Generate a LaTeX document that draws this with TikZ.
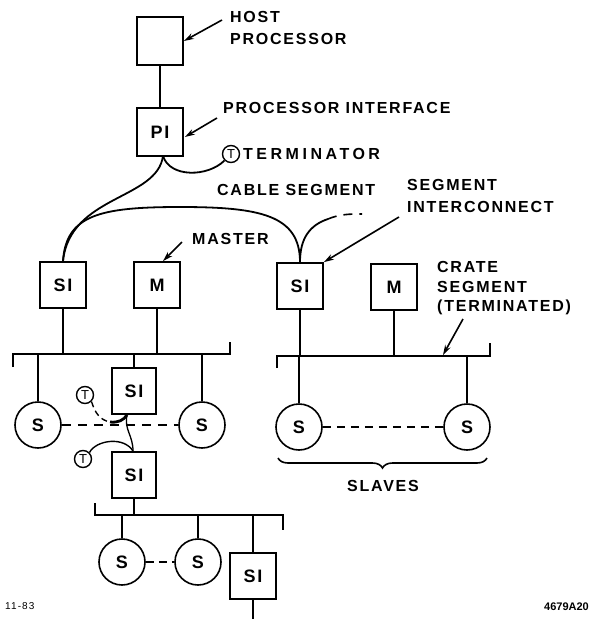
\documentclass[tikz,border=0pt]{standalone}
\usepackage{fontspec}
\setmainfont{Liberation Sans}
\newfontfamily\lblfont[LetterSpace=11]{Liberation Sans}
\usetikzlibrary{arrows.meta,decorations.pathreplacing,calc}
\begin{document}
\begin{tikzpicture}[x=1pt,y=-1pt,
  wire/.style={line width=1.8pt},
  box/.style={draw,line width=1.8pt,minimum width=46pt,minimum height=46pt,inner sep=0pt,font=\lblfont\bfseries\fontsize{18}{18}\selectfont},
  slave/.style={draw,circle,line width=1.6pt,minimum size=46pt,inner sep=0pt,font=\lblfont\bfseries\fontsize{18}{18}\selectfont},
  term/.style={draw,circle,line width=1.4pt,minimum size=17pt,inner sep=0pt,font=\fontsize{13}{13}\selectfont},
  lbl/.style={anchor=west,inner sep=0pt,font=\lblfont\bfseries\fontsize{16}{16}\selectfont},
  arr/.style={line width=1.6pt,-{Stealth[length=10pt,width=6pt]}},
  dsh/.style={line width=1.6pt,dash pattern=on 9pt off 7pt}]
\useasboundingbox (0,0) rectangle (591,619);

% top
\node[box,minimum height=48pt] (host) at (160,41) {};
\node[box,minimum height=48pt] (pi) at (160,132) {PI};
\draw[wire] (host) -- (pi);
\node[lbl] (hostl1) at (230,17) {HOST};
\node[lbl] (hostl2) at (230,39) {PROCESSOR};
\coordinate (ha) at (222,20);
\draw[arr] (ha) -- (host.east);
\node[lbl] (pil) at (223,108) {PROCESSOR INTERFACE};
\coordinate (pia) at (217,118);
\draw[arr] (pia) -- ($(pi.east)+(1,5)$);
\node[term] (tP) at (231,154) {T};
\node[lbl,font=\lblfont\bfseries\fontsize{16}{16}\selectfont\addfontfeature{LetterSpace=22}] (tPl) at (243,154) {TERMINATOR};
\coordinate (pib) at (163,156);
\draw[wire] (pib) .. controls (170,178) and (208,177) .. (tP.south west);

% SI / M row
\node[box] (siA) at (63,285) {SI};
\node[box] (mA) at (157,285) {M};
\node[box] (siB) at (300,286) {SI};
\node[box] (mB) at (394,287) {M};
\draw[wire] (pib) .. controls (157,200) and (70,195) .. (siA.north);
\draw[wire] (siA.north) .. controls (66,215) and (100,207) .. (180,207) .. controls (260,207) and (300,215) .. (siB.north);
\coordinate (dA) at (328,219);
\coordinate (dB) at (362,214);
\draw[wire] (siB.north) .. controls (300,238) and (310,225) .. (dA);
\draw[dsh] (dA) .. controls (340,214) and (350,214) .. (dB);
\node[lbl] (cabl) at (217,190) {CABLE SEGMENT};
\node[lbl] (sil1) at (407,185) {SEGMENT};
\node[lbl] (sil2) at (407,207) {INTERCONNECT};
\coordinate (sia) at (399,217);
\draw[arr] (sia) -- (siB.north east);
\node[lbl] (ml) at (192,239) {MASTER};
\coordinate (ma) at (182,242);
\draw[arr] (ma) -- ($(mA.north)+(6,0)$);
\node[lbl] (cl1) at (437,267) {CRATE};
\node[lbl] (cl2) at (437,287) {SEGMENT};
\node[lbl] (cl3) at (437,307) {(TERMINATED)};

% left bus
\coordinate (bLa) at (13,367);
\coordinate (bLb) at (13,354);
\coordinate (bLc) at (230,354);
\coordinate (bLd) at (230,342);
\draw[wire] (bLa) -- (bLb) -- (bLc) -- (bLd);
\draw[wire] (siA) -- (siA |- bLb);
\draw[wire] (mA) -- (mA |- bLb);
\node[slave] (sA) at (38,425) {S};
\node[slave] (sB) at (202,425) {S};
\draw[wire] (sA) -- (sA |- bLb);
\draw[wire] (sB) -- (sB |- bLb);
\node[box,minimum width=44pt,minimum height=46pt] (siC) at (134,391) {SI};
\draw[wire] (siC) -- (siC |- bLb);
\draw[dsh] (sA) -- (sB);

% right bus
\coordinate (bRa) at (277,368);
\coordinate (bRb) at (277,356);
\coordinate (bRc) at (490,356);
\coordinate (bRd) at (490,343);
\draw[wire] (bRa) -- (bRb) -- (bRc) -- (bRd);
\draw[wire] (siB) -- (siB |- bRb);
\draw[wire] (mB) -- (mB |- bRb);
\coordinate (ca) at (463,319);
\coordinate (cb) at (443,355);
\draw[arr] (ca) -- (cb);
\node[slave] (sC) at (299,427) {S};
\node[slave] (sD) at (467,427) {S};
\draw[wire] (sC) -- (sC |- bRb);
\draw[wire] (sD) -- (sD |- bRb);
\draw[dsh,dash pattern=on 8pt off 6pt] (sC) -- (sD);
\coordinate (brA) at (278,458);
\coordinate (brB) at (487,458);
\draw[line width=1.6pt,decorate,decoration={brace,mirror,amplitude=10pt}] (brA) -- (brB);
\node[lbl,anchor=center] (slv) at (383,486) {SLAVES};

% lower left
\node[box,minimum width=44pt,minimum height=46pt] (siD) at (134,475) {SI};
\node[term] (tU) at (85,395) {T};
\node[term] (tL) at (83,459) {T};
\coordinate (siCb) at ($(siC.south)+(-7,0)$);
\coordinate (siDt) at ($(siD.north)+(-1,0)$);
\coordinate (tj) at (110,422);
\draw[line width=1.4pt,dash pattern=on 6pt off 4pt] (tU.south east) .. controls (95,413) and (100,420) .. (tj);
\draw[line width=2.8pt] (tj) .. controls (118,423) and (124,420) .. (siCb);
\draw[line width=1.3pt] (siCb) .. controls (124,430) and (133,435) .. (siDt);
\draw[line width=1.4pt] (tL.north east) .. controls (96,440) and (124,436) .. (siDt);

% lower bus
\coordinate (bDa) at (95,503);
\coordinate (bDb) at (95,515);
\coordinate (bDc) at (283,515);
\coordinate (bDd) at (283,530);
\draw[wire] (bDa) -- (bDb) -- (bDc) -- (bDd);
\draw[wire] (siD) -- (siD |- bDb);
\node[slave] (sE) at (122,562) {S};
\node[slave] (sF) at (198,562) {S};
\node[box] (siE) at (253,576) {SI};
\draw[wire] (sE) -- (sE |- bDb);
\draw[wire] (sF) -- (sF |- bDb);
\draw[wire] (siE) -- (siE |- bDb);
\draw[dsh,dash pattern=on 8pt off 5pt] (sE) -- (sF);
\coordinate (siEbot) at (253,619);
\draw[wire] (siE) -- (siEbot);

% footer
\node[anchor=west,inner sep=0pt,font=\lblfont\fontsize{10}{10}\selectfont] (ft1) at (5,606) {11-83};
\node[anchor=east,inner sep=0pt,font=\bfseries\fontsize{11}{11}\selectfont] (ft2) at (589,607) {4679A20};
\end{tikzpicture}
\end{document}
